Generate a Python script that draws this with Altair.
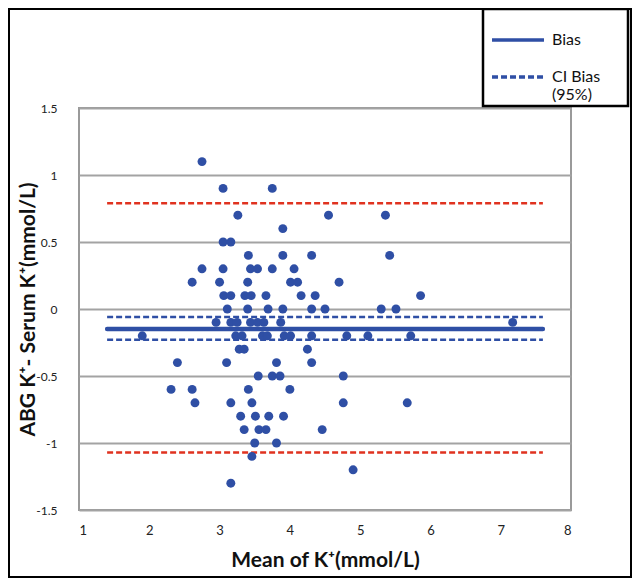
import altair as alt
import pandas as pd

# ---- data ----
mean_k = [
    2.75,
    3.05, 3.75,
    3.26, 4.55, 5.36,
    3.90,
    3.05, 3.16,
    3.41, 3.90, 4.31, 5.42,
    2.75, 3.05, 3.44, 3.54, 3.75, 4.06,
    2.61, 3.00, 3.40, 4.01, 4.11, 4.70,
    3.06, 3.16, 3.36, 3.45, 3.66, 4.16, 4.36, 5.86,
    3.11, 3.40, 3.69, 3.90, 4.31, 4.50, 5.30, 5.51,
    2.95, 3.16, 3.25, 3.44, 3.54, 3.63, 3.87, 7.17,
    1.90, 3.23, 3.32, 3.61, 3.68, 3.92, 4.01, 4.31, 4.81, 5.11, 5.72,
    3.28, 3.35, 4.25,
    2.40, 3.10, 3.81, 4.31,
    3.55, 3.75, 3.86, 4.76,
    2.31, 2.61, 3.41, 4.00,
    2.65, 3.16, 3.46, 4.76, 5.67,
    3.30, 3.51, 3.70, 3.91,
    3.35, 3.56, 3.66, 4.46,
    3.50, 3.81,
    3.46,
    4.90,
    3.16,
]
diff_k = (
    [1.1]
    + [0.9] * 2
    + [0.7] * 3
    + [0.6]
    + [0.5] * 2
    + [0.4] * 4
    + [0.3] * 6
    + [0.2] * 6
    + [0.1] * 8
    + [0.0] * 8
    + [-0.1] * 8
    + [-0.2] * 11
    + [-0.3] * 3
    + [-0.4] * 4
    + [-0.5] * 4
    + [-0.6] * 4
    + [-0.7] * 5
    + [-0.8] * 4
    + [-0.9] * 4
    + [-1.0] * 2
    + [-1.1]
    + [-1.2]
    + [-1.3]
)

bias_series = ["Bias", "CI Bias (95%)", "CI Bias (95%)"]
bias_values = [-0.15, -0.06, -0.23]
loa_values = [0.79, -1.07]
line_start = 1.4
line_end = 7.6

x_ticks = [1, 2, 3, 4, 5, 6, 7, 8]
y_ticks = [-1.5, -1, -0.5, 0, 0.5, 1, 1.5]

BLUE = "#2f4fa5"
RED = "#e0321f"
FONT = "Lato"
PAD = "\u2003" * 2 + "\u200b"

pts = pd.DataFrame({"mean": mean_k, "diff": diff_k})
bias_df = pd.DataFrame({"series": bias_series, "y": bias_values,
                        "x": [line_start] * 3, "x2": [line_end] * 3})
loa_df = pd.DataFrame({"y": loa_values, "x": [line_start] * 2, "x2": [line_end] * 2})

xscale = alt.Scale(domain=[1, 8], nice=False, zero=False)
yscale = alt.Scale(domain=[-1.5, 1.5], nice=False, zero=False)

xaxis = alt.Axis(values=x_ticks, labelExpr="'' + datum.value", grid=False, domain=False,
                 ticks=False, labelPadding=14, labelFontSize=13, labelFont=FONT,
                 labelColor="#222", title="Mean of K⁺(mmol/L)", titleFont=FONT,
                 titleFontSize=21, titleFontWeight="bold", titleColor="#111",
                 titleBaseline="middle", titleY=50)
yaxis = alt.Axis(values=y_ticks, labelExpr="'' + datum.value", grid=True,
                 gridColor="#a3a3a3", gridWidth=2, domain=False, ticks=False,
                 labelPadding=22, labelFontSize=12, labelFont=FONT, labelColor="#222",
                 title="ABG K⁺- Serum K⁺(mmol/L)", titleFont=FONT, titleFontSize=21,
                 titleFontWeight="bold", titleColor="#111", titleBaseline="middle",
                 titleX=-51)

points = alt.Chart(pts).mark_circle(size=80, opacity=1, color=BLUE).encode(
    x=alt.X("mean:Q", scale=xscale, axis=xaxis),
    y=alt.Y("diff:Q", scale=yscale, axis=yaxis),
)

legend = alt.Legend(
    title=None, orient="none", legendX=404, legendY=-99,
    strokeColor="black", fillColor="white", padding=3,
    symbolType="stroke", symbolSize=2700, symbolStrokeWidth=3.5, symbolOffset=4,
    labelFont=FONT, labelFontSize=16, labelColor="#111", labelOffset=6,
    labelExpr="datum.label == 'CI Bias (95%)' ? ['CI Bias" + PAD + "', '(95%)'] : datum.label",
    rowPadding=1,
)

series_color = alt.Color("series:N", scale=alt.Scale(domain=["Bias", "CI Bias (95%)"],
                                                    range=[BLUE, BLUE]), legend=legend)
series_dash = alt.StrokeDash("series:N", scale=alt.Scale(domain=["Bias", "CI Bias (95%)"],
                                                        range=[[1, 0], [6, 3]]), legend=legend)

bias_line = alt.Chart(bias_df).transform_filter(alt.datum.series == "Bias").mark_rule(
    strokeWidth=4.5, strokeCap="round").encode(
    x="x:Q", x2="x2:Q", y="y:Q", color=series_color, strokeDash=series_dash)

ci_lines = alt.Chart(bias_df).transform_filter(alt.datum.series != "Bias").mark_rule(
    strokeWidth=2.5).encode(
    x="x:Q", x2="x2:Q", y="y:Q", color=series_color, strokeDash=series_dash)

loa_lines = alt.Chart(loa_df).mark_rule(strokeWidth=2.5, color=RED, strokeDash=[6, 3]).encode(
    x="x:Q", x2="x2:Q", y="y:Q")

frame = alt.Chart(pts).mark_rect(fill=None, stroke="black", strokeWidth=2).encode(
    x=alt.value(-70), x2=alt.value(552), y=alt.value(-99), y2=alt.value(469))

chart = alt.layer(loa_lines, ci_lines, bias_line, points, frame).properties(
    width=492, height=402,
    autosize=alt.AutoSizeParams(type="none"),
    padding={"left": 71, "top": 100, "right": 61, "bottom": 68},
    background="white",
).configure_view(stroke="#9a9a9a", strokeWidth=2).configure_legend(strokeWidth=2.5)

chart.save("out.html", embed_options={"renderer": "svg", "actions": False})
